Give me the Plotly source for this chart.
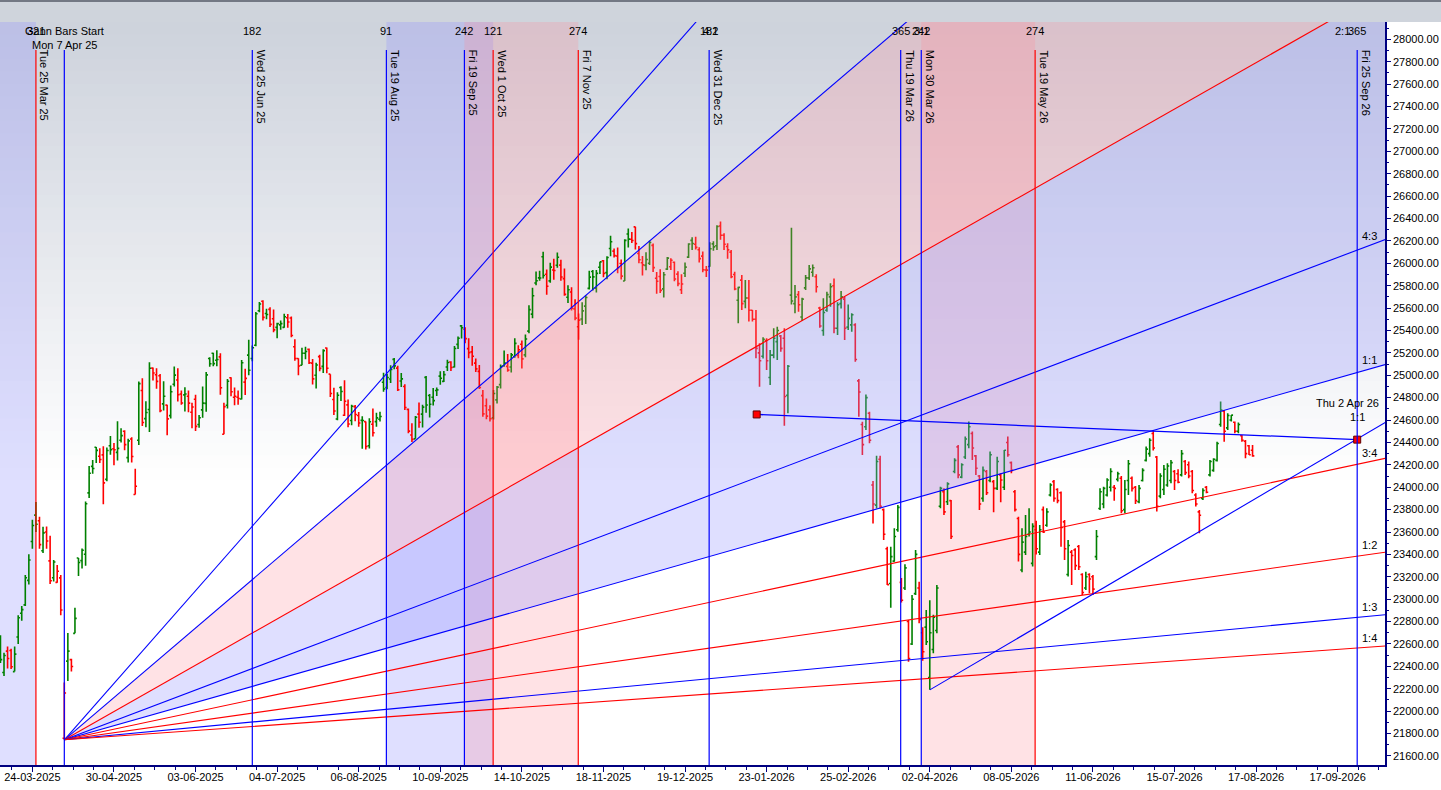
import plotly.graph_objects as go

# ---------------- data (bar index 0 = 24-03-2025, daily trading bars) ----------------
first_bar = -9
opens = [
    22521,22345,22536,22541,22353,22662,22874,22949,23168,23515,
    23751,23700,23433,23600,23342,23192,23150,23190,21758,22447,
    22460,22695,23368,23344,23401,23949,24186,24357,24277,24289,
    24070,24370,24343,24311,24419,24500,24264,24431,23935,24420,
    24864,24613,24694,25064,25005,24996,24744,24733,24639,24919,
    24957,24832,24825,24812,24670,24786,24560,24691,24749,25150,
    25196,25134,25164,24473,24732,24977,24803,24803,24788,24939,
    25180,25150,25268,25576,25661,25551,25588,25505,25428,25450,
    25428,25514,25511,25255,25149,25089,25196,25231,25108,25000,
    25166,25079,25243,25010,24783,24609,24890,24643,24735,24596,
    24720,24641,24597,24586,24371,24563,24586,24607,24938,24891,
    24966,25142,25064,24949,24899,24695,24466,24432,24653,24653,
    24981,24819,24803,24864,24992,24945,25074,25118,25074,25276,
    25441,25411,25238,25209,25108,25035,24818,24728,24691,24620,
    24780,24916,25085,25079,25074,25167,25177,25277,25182,25394,
    25546,25824,25870,26058,25902,25843,25940,25982,25984,25863,
    25696,25744,25593,25433,25503,25617,25776,25927,25778,25965,
    26022,25917,26132,26109,26065,25998,25842,26261,26215,26325,
    26087,26005,25981,26000,26160,25867,25882,25771,25948,25969,
    26009,25903,25763,25911,26055,26205,26170,26121,26064,25940,
    25971,26173,26156,26333,26250,26150,26100,25900,25670,25850,
    25660,25690,25580,25500,25200,25170,25310,24980,25180,25300,
    25350,25330,24820,25716,25640,25720,25520,25780,25870,25920,
    25880,25600,25400,25580,25700,25800,25420,25640,25680,25430,
    25450,25450,24950,24560,24540,24660,24020,23840,24250,23800,
    23450,23140,23340,23620,23150,23100,22800,22600,23050,23100,
    22700,22750,22300,22550,22720,23830,23960,23870,23880,24140,
    24360,24090,24270,24380,24480,24280,24100,23900,24140,24060,
    24050,23990,24110,24000,24400,24220,23960,23720,23260,23420,
    23580,23320,23620,23420,23800,23660,23930,24050,23980,23950,
    23690,23220,23420,23440,23470,23220,23100,23220,23200,23380,
    23810,23850,23930,24000,24000,24070,24080,23800,24060,24080,
    24000,23870,24060,24240,24300,24480,24270,23920,23980,24020,
    24060,24140,24120,24110,24230,24200,24140,23930,23780,23900,
    24000,24110,24150,24240,24560,24680,24530,24600,24580,24500,
    24460,24410,24370,24330,
]
highs = [
    22677,22522,22577,22558,22578,22857,22940,23216,23402,23709,
    23869,23737,23646,23649,23566,23350,23306,23215,22255,22698,
    22468,22923,23368,23452,23872,24189,24242,24359,24347,24365,
    24355,24457,24396,24589,24526,24509,24433,24447,24164,24944,
    24973,24767,25116,25070,25062,25011,24946,24737,24909,25079,
    25062,24864,24893,24864,24754,24826,24644,24900,25030,25160,
    25200,25223,25196,24754,24967,24982,24891,24864,25137,25058,
    25317,25266,25566,25655,25669,25593,25608,25587,25470,25489,
    25549,25548,25525,25322,25152,25245,25255,25238,25145,25111,
    25182,25233,25247,25010,24889,24848,24902,24956,24784,24736,
    24734,24672,24634,24586,24616,24702,24664,24674,25022,25013,
    25089,25154,25084,25021,24919,24702,24572,24636,24756,24737,
    24993,24833,24886,24891,25035,25037,25139,25126,25261,25346,
    25449,25428,25331,25261,25149,25092,24868,24792,24731,24868,
    24904,25095,25220,25190,25199,25331,25267,25310,25365,25625,
    25781,25926,25934,26104,25944,26005,26041,26097,26032,25953,
    25803,25787,25679,25551,25653,25715,25934,25940,25940,26013,
    26029,26062,26246,26132,26142,26033,26215,26310,26280,26326,
    26154,26066,26098,26202,26176,25923,25947,25922,26057,26045,
    26015,25929,25902,26008,26180,26233,26236,26144,26106,25976,
    26187,26197,26340,26373,26268,26180,26119,25925,25790,25896,
    25851,25850,25583,25583,25285,25340,25330,25225,25419,25434,
    25360,25419,25091,26318,25806,25752,25693,25895,25984,25990,
    25901,25612,25687,25746,25821,25865,25651,25752,25702,25633,
    25553,25464,24966,24585,24829,24675,24055,24282,24282,23811,
    23469,23469,23633,23841,23190,23311,22814,23037,23439,23156,
    22750,22904,22990,22860,23127,24005,23990,24044,23886,24258,
    24377,24214,24452,24586,24497,24288,24110,24184,24154,24318,
    24065,24273,24124,24333,24452,24229,23976,23737,23633,23752,
    23812,23678,23700,23663,23827,23812,24035,24065,23990,23961,
    23708,23529,23440,23455,23485,23231,23246,23231,23216,23618,
    23990,24005,24080,24169,24020,24139,24100,24065,24244,24095,
    24011,24020,24169,24363,24437,24511,24279,24124,24199,24214,
    24244,24154,24160,24333,24244,24229,24154,23946,23797,23990,
    24011,24244,24258,24407,24765,24690,24660,24645,24586,24577,
    24467,24422,24378,24378,
]
lows = [
    22430,22315,22380,22377,22353,22599,22807,22940,23132,23451,
    23601,23451,23412,23450,23136,23158,23146,22857,21744,22270,
    22353,22695,23207,23273,23299,23903,24120,24216,24216,23848,
    24054,24290,24197,24238,24400,24331,24220,24220,23935,24378,
    24547,24535,24494,24953,24880,24669,24685,24463,24614,24900,
    24765,24737,24677,24669,24527,24502,24530,24620,24673,25077,
    25081,25081,24825,24473,24703,24813,24733,24736,24784,24824,
    24999,25125,25259,25562,25490,25501,25430,25384,25331,25407,
    25424,25424,25340,25129,25001,25089,25144,25101,24918,24882,
    25035,25020,25018,24806,24646,24599,24771,24635,24535,24554,
    24590,24539,24344,24337,24345,24452,24539,24586,24852,24874,
    24930,25054,24859,24894,24689,24481,24404,24432,24530,24533,
    24664,24622,24730,24815,24915,24940,25038,25039,25070,25235,
    25329,25286,25151,25084,25028,24878,24629,24606,24588,24605,
    24747,24881,25076,25032,25024,25156,25152,25060,25160,25376,
    25508,25803,25843,25863,25718,25827,25854,25960,25845,25711,
    25645,25578,25492,25318,25449,25458,25765,25758,25740,25904,
    25876,25857,26063,26052,25912,25856,25842,26141,26181,26124,
    26000,25891,25938,25985,25923,25728,25734,25694,25939,25939,
    25839,25795,25726,25877,26048,26119,26124,26008,25921,25878,
    25969,26113,26118,26210,26119,26040,25866,25760,25464,25583,
    25598,25480,25479,25151,24898,25150,25047,24913,25151,25136,
    25210,24550,24660,25633,25553,25568,25484,25761,25850,25880,
    25740,25425,25353,25568,25612,25374,25359,25597,25315,25404,
    25389,25121,24630,24288,24511,24392,23677,23811,23811,23528,
    23127,22924,23335,23603,22970,23082,22442,22591,23037,22784,
    22450,22591,22190,22516,22695,23812,23752,23842,23538,24124,
    24080,24080,24252,24348,24244,24110,23797,23871,23931,24044,
    23776,23976,23865,23976,24273,24124,23782,23336,23240,23395,
    23559,23291,23400,23395,23590,23648,23916,23871,23856,23469,
    23351,23202,23127,23261,23261,23038,23082,23053,23038,23350,
    23797,23812,23916,23961,23880,24050,23767,23767,23931,23961,
    23851,23857,24050,24229,24273,24327,23782,23901,23931,24005,
    24035,23976,24035,24095,24110,24080,23946,23827,23589,23886,
    23946,24095,24139,24229,24541,24407,24511,24586,24482,24482,
    24407,24258,24288,24273,
]
closes = [
    22460,22497,22470,22397,22509,22834,22907,23191,23350,23658,
    23669,23487,23592,23519,23165,23332,23250,22904,22162,22536,
    22399,22829,23328,23437,23852,24125,24167,24329,24247,24039,
    24328,24336,24334,24347,24461,24380,24414,24274,24008,24925,
    24578,24667,25062,25020,24945,24684,24813,24610,24853,25001,
    24826,24752,24833,24751,24717,24543,24621,24751,25003,25103,
    25104,25141,24888,24719,24947,24853,24812,24793,25112,24972,
    25045,25245,25549,25637,25517,25542,25454,25405,25461,25461,
    25523,25476,25355,25150,25082,25196,25212,25112,24968,25091,
    25061,25220,25062,24837,24681,24821,24855,24768,24565,24723,
    24650,24574,24596,24363,24585,24487,24619,24631,24877,24980,
    25051,25084,24870,24968,24712,24501,24427,24625,24580,24715,
    24734,24741,24773,24869,24973,25006,25114,25069,25239,25330,
    25424,25327,25202,25170,25057,24891,24655,24635,24611,24837,
    24894,25077,25108,25046,25182,25285,25228,25146,25324,25586,
    25710,25844,25869,25891,25795,25966,25936,26054,25878,25722,
    25763,25598,25510,25492,25575,25695,25876,25879,25910,26013,
    25910,26052,26192,26068,25960,25885,26205,26216,26203,26176,
    26032,25986,26034,26186,25961,25840,25758,25898,26046,26027,
    25860,25818,25815,25966,26172,26177,26142,26042,25942,25939,
    26130,26147,26329,26250,26170,26120,25880,25770,25785,25640,
    25690,25580,25500,25240,25130,25320,25130,25180,25330,25400,
    25240,24810,25080,25663,25700,25630,25680,25870,25950,25960,
    25790,25440,25560,25720,25790,25420,25630,25700,25420,25508,
    25540,25140,24850,24380,24800,24420,23850,24230,23830,23580,
    23130,23380,23560,23820,22990,23280,22470,23000,23400,22820,
    22530,22620,22700,22840,23100,23990,23780,24030,23560,24240,
    24110,24200,24430,24540,24350,24170,23850,24150,23950,24290,
    23990,24230,24065,24330,24290,24150,23800,23400,23510,23560,
    23600,23650,23450,23620,23600,23780,24020,23900,23880,23640,
    23450,23480,23390,23300,23290,23060,23200,23180,23090,23560,
    23960,23990,24065,24140,23990,24120,23790,23980,24210,23990,
    23880,23990,24150,24340,24420,24350,23830,24100,24160,24190,
    24220,24060,24045,24300,24130,24100,23970,23850,23750,23970,
    23955,24230,24250,24390,24690,24500,24640,24644,24500,24560,
    24420,24300,24290,24280,
]

date_labels = ["24-03-2025", "30-04-2025", "03-06-2025", "04-07-2025", "06-08-2025",
               "10-09-2025", "14-10-2025", "18-11-2025", "19-12-2025", "23-01-2026",
               "25-02-2026", "02-04-2026", "08-05-2026", "11-06-2026", "15-07-2026",
               "17-08-2026", "17-09-2026"]
bars_per_label = 23

# vertical time lines (bar index), colours, date captions and count captions
vline_pos = [1.0, 9.0, 62.0, 99.8, 121.8, 129.9, 153.9, 190.8, 244.8, 250.6, 282.7, 373.5]
vline_color = ["red", "blue", "blue", "blue", "blue", "red", "red", "blue", "blue", "blue", "red", "blue"]
vline_date = ["Tue 25 Mar 25", "", "Wed 25 Jun 25", "Tue 19 Aug 25", "Fri 19 Sep 25",
              "Wed 1 Oct 25", "Fri 7 Nov 25", "Wed 31 Dec 25", "Thu 19 Mar 26",
              "Mon 30 Mar 26", "Tue 19 May 26", "Fri 25 Sep 26"]
vline_count = ["321", "", "182", "91", "242", "121", "274", "182", "365", "242", "274", "365"]

blue_bands = [(-9.13, 1.0), (99.8, 129.9)]
red_bands = [(121.8, 153.9), (250.6, 282.7)]

# Gann fan
gann_start_bar = 9
gann_unit = 9.0   # points per bar for 1x1
fan_names = ["4:1", "3:1", "2:1", "4:3", "1:1", "3:4", "1:2", "1:3", "1:4"]
fan_mult = [4, 3, 2, 4 / 3, 1, 3 / 4, 1 / 2, 1 / 3, 1 / 4]
fan_color = ["blue", "blue", "red", "blue", "blue", "red", "red", "blue", "red"]

# second angle line from the 2026 low
low_line_bar = 253
low_line_slope = 18.6
# sloping level line with end markers
level_bars = [204.2, 373.5]
level_prices = [24650, 24425]

# ---------------- chart geometry ----------------
X_MIN, X_MAX = -9.13, 381.34
Y_MIN, Y_MAX = 21519, 28155
GREEN = "#008000"
RED = "#ff0000"
BLUE = "#0000ff"
NAVY = "#000080"
FONT = "Liberation Sans, Arial, sans-serif"

n = len(opens)
bar_x = list(range(first_bar, first_bar + n))
up_idx = [k for k in range(n) if k == 0 or closes[k] >= closes[k - 1]]
dn_idx = [k for k in range(n) if not (k == 0 or closes[k] >= closes[k - 1])]

fig = go.Figure()

# background gradient (paper space)
shapes = []
top_rgb = (205, 210, 220)
N = 60
for k in range(N):
    tm = (k + 0.5) / N
    f = min(1.0, tm / 0.62)
    c = tuple(int(round(top_rgb[j] + (255 - top_rgb[j]) * f)) for j in range(3))
    shapes.append(dict(type="rect", xref="paper", yref="paper", x0=0, x1=1,
                       y0=1 - (k + 1) / N - 0.002, y1=1 - k / N,
                       fillcolor="rgb(%d,%d,%d)" % c, line=dict(width=0), layer="below"))
# header strip
shapes.append(dict(type="rect", xref="paper", yref="paper", x0=-0.01, x1=1.05,
                   y0=1.0, y1=1.035, fillcolor="#cfd4dc", line=dict(width=0), layer="below"))
shapes.append(dict(type="rect", xref="paper", yref="paper", x0=-0.01, x1=1.05,
                   y0=1.0268, y1=1.035, fillcolor="#737884", line=dict(width=0), layer="below"))

for a, b in blue_bands:
    shapes.append(dict(type="rect", xref="x", yref="paper", x0=max(a, X_MIN), x1=b, y0=0, y1=1,
                       fillcolor="rgba(150,150,255,0.30)", line=dict(width=0), layer="below"))
for a, b in red_bands:
    shapes.append(dict(type="rect", xref="x", yref="paper", x0=a, x1=b, y0=0, y1=1,
                       fillcolor="rgba(255,140,150,0.25)", line=dict(width=0), layer="below"))

vtop = 1 - 28 / 743.0
for p, col in zip(vline_pos, vline_color):
    shapes.append(dict(type="line", xref="x", yref="paper", x0=p, x1=p, y0=0, y1=vtop,
                       line=dict(color=BLUE if col == "blue" else RED, width=1.2), layer="above"))

# Gann fan fills
p0 = lows[gann_start_bar - first_bar]
x_far = 400.0


def fan_price(m, x):
    return p0 + gann_unit * m * (x - gann_start_bar)


fig.add_trace(go.Scatter(x=[gann_start_bar, x_far, x_far, gann_start_bar],
                         y=[p0, fan_price(3, x_far), fan_price(2, x_far), p0],
                         fill="toself", mode="none", fillcolor="rgba(255,140,150,0.25)",
                         hoverinfo="skip"))
fig.add_trace(go.Scatter(x=[gann_start_bar, x_far, x_far, gann_start_bar],
                         y=[p0, fan_price(2, x_far), fan_price(1, x_far), p0],
                         fill="toself", mode="none", fillcolor="rgba(150,150,255,0.30)",
                         hoverinfo="skip"))

# OHLC bars coloured against the previous close
for idx, col in ((up_idx, GREEN), (dn_idx, RED)):
    fig.add_trace(go.Ohlc(
        x=[bar_x[k] for k in idx], open=[opens[k] for k in idx], high=[highs[k] for k in idx],
        low=[lows[k] for k in idx], close=[closes[k] for k in idx],
        increasing=dict(line=dict(color=col, width=1.6)),
        decreasing=dict(line=dict(color=col, width=1.6)),
        tickwidth=0.5, hoverinfo="skip"))

# fan lines
for m, col in zip(fan_mult, fan_color):
    fig.add_trace(go.Scatter(x=[gann_start_bar, x_far], y=[p0, fan_price(m, x_far)], mode="lines",
                             line=dict(color=BLUE if col == "blue" else RED, width=1.1),
                             hoverinfo="skip"))

# angle line from the low
low_p = lows[low_line_bar - first_bar]
fig.add_trace(go.Scatter(x=[low_line_bar, x_far], y=[low_p, low_p + low_line_slope * (x_far - low_line_bar)],
                         mode="lines", line=dict(color=BLUE, width=1.1), hoverinfo="skip"))
# level line with squares
fig.add_trace(go.Scatter(x=level_bars, y=level_prices, mode="lines+markers",
                         line=dict(color=BLUE, width=1.3),
                         marker=dict(symbol="square", size=7, color=RED, line=dict(color="#600000", width=1)),
                         hoverinfo="skip"))

# ---------------- annotations ----------------
ann = []
for p, d, c in zip(vline_pos, vline_date, vline_count):
    if d:
        ann.append(dict(x=p, xref="x", y=1, yref="paper", text=d, textangle=90, xanchor="left",
                        yanchor="top", xshift=1, yshift=-26, showarrow=False,
                        font=dict(size=11, color="black", family=FONT)))
    if c:
        ann.append(dict(x=p, xref="x", y=1, yref="paper", text=c, xanchor="center", yanchor="top",
                        yshift=-1, showarrow=False, font=dict(size=11, color="black", family=FONT)))
ann.append(dict(x=gann_start_bar, xref="x", y=1, yref="paper", text="Gann Bars Start", xanchor="center",
                yanchor="top", yshift=-1, showarrow=False, font=dict(size=11, color="black", family=FONT)))
ann.append(dict(x=gann_start_bar, xref="x", y=1, yref="paper", text="Mon 7 Apr 25", xanchor="center",
                yanchor="top", yshift=-15, showarrow=False, font=dict(size=11, color="black", family=FONT)))

label_x = 377.1
for name, m in zip(fan_names, fan_mult):
    x_exit = gann_start_bar + (Y_MAX - p0) / (gann_unit * m)
    if x_exit < X_MAX:
        ann.append(dict(x=x_exit, xref="x", y=1, yref="paper", text=name, xanchor="center", yanchor="top",
                        xshift=15, yshift=-1, showarrow=False,
                        font=dict(size=11, color="black", family=FONT)))
    else:
        ann.append(dict(x=label_x, xref="x", y=fan_price(m, label_x), yref="y", text=name,
                        xanchor="center", yanchor="bottom", yshift=1, showarrow=False,
                        font=dict(size=11, color="black", family=FONT)))
ann.append(dict(x=level_bars[1], xref="x", y=level_prices[1], yref="y", text="Thu 2 Apr 26",
                xanchor="center", yanchor="middle", xshift=-10, yshift=37, showarrow=False,
                font=dict(size=11, color="black", family=FONT)))
ann.append(dict(x=level_bars[1], xref="x", y=level_prices[1], yref="y", text="1:1",
                xanchor="center", yanchor="middle", yshift=23, showarrow=False,
                font=dict(size=11, color="black", family=FONT)))

tickvals = [bars_per_label * k for k in range(len(date_labels))]

fig.update_layout(
    width=1441, height=790,
    margin=dict(l=0, r=56, t=22, b=25),
    paper_bgcolor="white", plot_bgcolor="rgba(0,0,0,0)",
    showlegend=False,
    font=dict(family=FONT, size=11, color="black"),
    shapes=shapes, annotations=ann,
    xaxis=dict(range=[X_MIN, X_MAX], tickmode="array", tickvals=tickvals, ticktext=date_labels,
               ticks="outside", ticklen=5, tickcolor=NAVY, showline=True, linecolor=NAVY, linewidth=1.5,
               showgrid=False, zeroline=False, rangeslider=dict(visible=False),
               ticklabelstandoff=-4,
               tickfont=dict(size=11, color="black", family=FONT),
               minor=dict(ticks="outside", ticklen=3, tickcolor=NAVY, dtick=bars_per_label / 4, tick0=0,
                          showgrid=False)),
    yaxis=dict(range=[Y_MIN, Y_MAX], side="right", tickmode="linear", tick0=21600, dtick=200,
               tickformat=".2f", ticks="outside", ticklen=4, tickcolor=NAVY, showline=True,
               linecolor=NAVY, linewidth=1.5, showgrid=False, zeroline=False,
               tickfont=dict(size=11, color="black", family=FONT),
               minor=dict(ticks="outside", ticklen=2, tickcolor=NAVY, dtick=100, showgrid=False)),
)

fig.write_html("out.html", config={"displayModeBar": False},
               post_script="document.body.style.margin='0';document.body.style.overflow='hidden';")
